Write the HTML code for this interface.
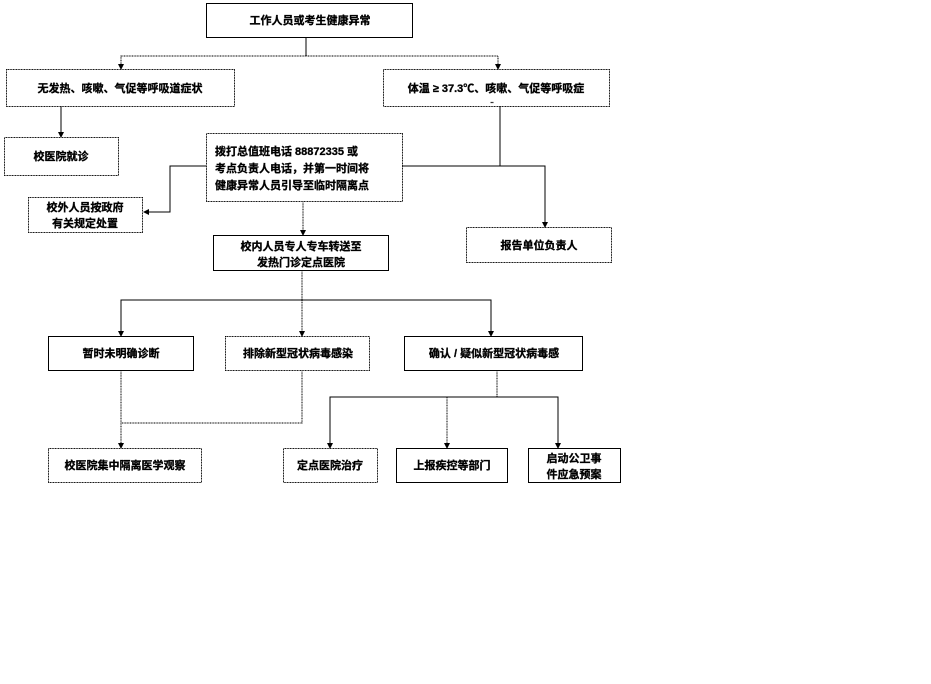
<!DOCTYPE html>
<html><head><meta charset="utf-8"><style>
html,body{margin:0;padding:0;background:#fff;}
svg{display:block}
text{font-family:"Liberation Sans","Noto Sans CJK SC",sans-serif;font-size:11px;font-weight:bold;fill:#000;stroke:#000;stroke-width:0.3;text-anchor:middle}
rect{fill:#fff;stroke:#000;stroke-width:1}
.d{stroke-dasharray:1 0.6}
line,polyline{stroke:#000;stroke-width:1;fill:none}
.a{fill:#000;stroke:none}
.l{text-anchor:start}
</style></head><body>
<svg width="931" height="684" viewBox="0 0 931 684">
<line x1="306" y1="37" x2="306" y2="56"/>
<polyline class="d" points="121,69 121,56 498,56 498,69"/>
<polygon class="a" points="118,64 124,64 121,70"/>
<polygon class="a" points="495,64 501,64 498,70"/>
<line x1="61" y1="106" x2="61" y2="137"/>
<polygon class="a" points="58,132 64,132 61,138"/>
<line x1="500" y1="106" x2="500" y2="166"/>
<polyline points="402,166 545,166 545,227"/>
<polygon class="a" points="542,222 548,222 545,228"/>
<polyline points="206,166 170,166 170,212 147,212"/>
<polygon class="a" points="143,212 149,209 149,215"/>
<line class="d" x1="303" y1="201" x2="303" y2="235"/>
<polygon class="a" points="300,230 306,230 303,236"/>
<line class="d" x1="302" y1="270" x2="302" y2="336"/>
<polyline points="121,336 121,300 491,300 491,336"/>
<polygon class="a" points="118,331 124,331 121,337"/>
<polygon class="a" points="299,331 305,331 302,337"/>
<polygon class="a" points="488,331 494,331 491,337"/>
<line class="d" x1="121" y1="370" x2="121" y2="448"/>
<polyline class="d" points="302,370 302,423 121,423"/>
<polygon class="a" points="118,443 124,443 121,449"/>
<line class="d" x1="497" y1="370" x2="497" y2="397"/>
<polyline points="330,448 330,397 558,397 558,448"/>
<line class="d" x1="447" y1="397" x2="447" y2="448"/>
<polygon class="a" points="327,443 333,443 330,449"/>
<polygon class="a" points="444,443 450,443 447,449"/>
<polygon class="a" points="555,443 561,443 558,449"/>
<rect x="206.5" y="3.5" width="206" height="34"/><text x="310" y="24">工作人员或考生健康异常</text>
<rect class="d" x="6.5" y="69.5" width="228" height="37"/><text x="120" y="92">无发热、咳嗽、气促等呼吸道症状</text>
<rect class="d" x="383.5" y="69.5" width="226" height="37"/><text x="496" y="92">体温 ≥ 37.3℃、咳嗽、气促等呼吸症</text><text x="492" y="103" style="font-size:6px">..</text>
<rect class="d" x="4.5" y="137.5" width="114" height="38"/><text x="61" y="160">校医院就诊</text>
<rect class="d" x="206.5" y="133.5" width="196" height="68"/>
<text class="l" x="215" y="155">拨打总值班电话  88872335    或</text>
<text class="l" x="215" y="172">考点负责人电话，并第一时间将</text>
<text class="l" x="215" y="189">健康异常人员引导至临时隔离点</text>
<rect class="d" x="28.5" y="197.5" width="114" height="35"/><text x="85" y="211">校外人员按政府</text><text x="85" y="227">有关规定处置</text>
<rect x="213.5" y="235.5" width="175" height="35"/><text x="301" y="250">校内人员专人专车转送至</text><text x="301" y="266">发热门诊定点医院</text>
<rect class="d" x="466.5" y="227.5" width="145" height="35"/><text x="539" y="249">报告单位负责人</text>
<rect x="48.5" y="336.5" width="145" height="34"/><text x="121" y="357">暂时未明确诊断</text>
<rect class="d" x="225.5" y="336.5" width="144" height="34"/><text x="298" y="357">排除新型冠状病毒感染</text>
<rect x="404.5" y="336.5" width="178" height="34"/><text x="494" y="357">确认 / 疑似新型冠状病毒感</text>
<rect class="d" x="48.5" y="448.5" width="153" height="34"/><text x="125" y="469">校医院集中隔离医学观察</text>
<rect class="d" x="283.5" y="448.5" width="94" height="34"/><text x="330" y="469">定点医院治疗</text>
<rect x="396.5" y="448.5" width="111" height="34"/><text x="452" y="469">上报疾控等部门</text>
<rect x="528.5" y="448.5" width="92" height="34"/><text x="574" y="462">启动公卫事</text><text x="574" y="478">件应急预案</text>
</svg>
</body></html>
